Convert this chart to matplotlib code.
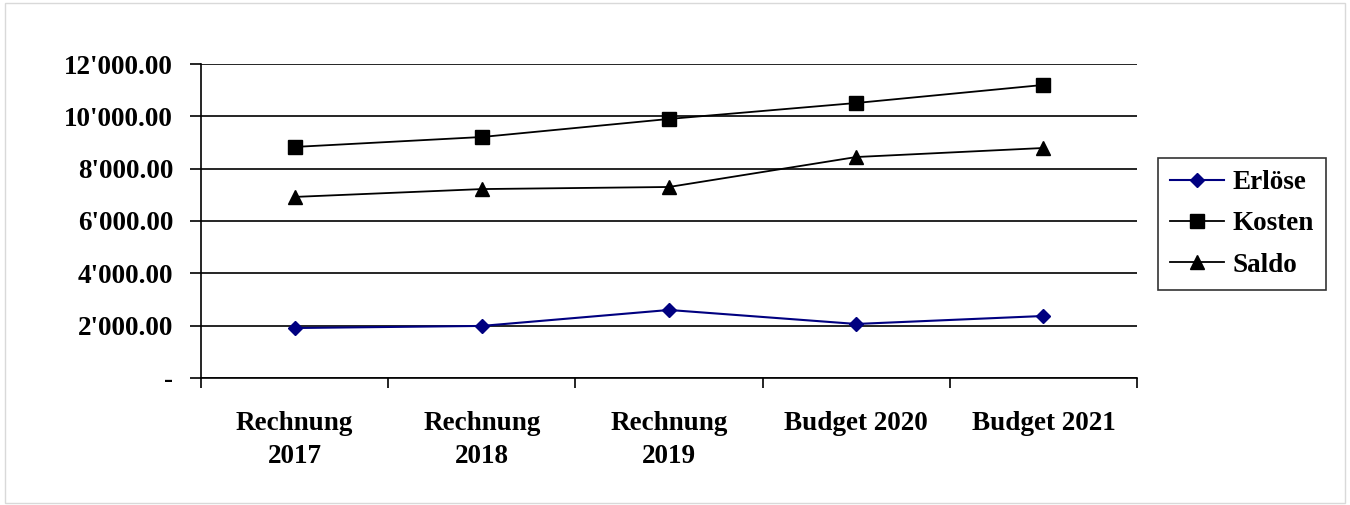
import matplotlib
matplotlib.use("Agg")
import matplotlib.pyplot as plt
from matplotlib.ticker import FuncFormatter, FixedLocator
from matplotlib.patches import Rectangle

categories = ["Rechnung\n2017", "Rechnung\n2018", "Rechnung\n2019", "Budget 2020", "Budget 2021"]
erloese = [1910, 1990, 2600, 2065, 2370]
kosten = [8830, 9210, 9900, 10510, 11200]
saldo = [6920, 7220, 7300, 8445, 8790]
yticks = [0, 2000, 4000, 6000, 8000, 10000, 12000]

plt.rcParams['font.family'] = ['Liberation Serif', 'DejaVu Serif']
plt.rcParams['font.weight'] = 'bold'
FS = 19.5

fig = plt.figure(figsize=(13.5, 5.05), dpi=100)
fig.patches.append(Rectangle((0.004, 0.004), 0.992, 0.99, transform=fig.transFigure,
                             fill=False, edgecolor='#d9d9d9', linewidth=1.0))
ax = fig.add_axes([201/1350, 1-378/505, (1137-201)/1350, (378-64)/505])

x = [i + 0.5 for i in range(len(categories))]
ax.plot(x, erloese, color='#000080', marker='D', markersize=7.5, linewidth=1.5, label='Erlöse')
ax.plot(x, kosten, color='black', marker='s', markersize=9.5, linewidth=1.3, label='Kosten')
ax.plot(x, saldo, color='black', marker='^', markersize=10, linewidth=1.3, label='Saldo')

ax.set_xlim(0, len(categories))
ax.set_ylim(0, 12000)
ax.set_yticks(yticks)
ax.yaxis.set_major_formatter(FuncFormatter(
    lambda v, p: "-" if v == 0 else f"{v:,.2f}".replace(",", "'")))
ax.yaxis.grid(True, color='black', linewidth=1.2)
ax.set_axisbelow(True)

ax.xaxis.set_major_locator(FixedLocator(range(len(categories) + 1)))
ax.xaxis.set_minor_locator(FixedLocator(x))
ax.set_xticklabels([])
ax.set_xticklabels(categories, minor=True)
ax.tick_params(axis='x', which='major', direction='out', length=7.5, width=1.2)
ax.tick_params(axis='x', which='minor', length=0, pad=24, labelsize=FS)
ax.tick_params(axis='y', direction='out', length=8, width=1.2, labelsize=FS, pad=12)
for lab in ax.get_xticklabels(minor=True):
    lab.set_linespacing(1.42)
    lab.set_fontweight('bold')
for lab in ax.get_yticklabels():
    lab.set_fontweight('bold')

for s in ['top', 'right']:
    ax.spines[s].set_visible(False)
for s in ['left', 'bottom']:
    ax.spines[s].set_linewidth(1.2)
    ax.spines[s].set_color('black')

leg = fig.legend(loc='upper left', bbox_to_anchor=(1158/1350, 1-158/505),
                 prop={'size': FS, 'weight': 'bold'}, frameon=True, fancybox=False,
                 edgecolor='black', handlelength=2.0, labelspacing=0.6, borderpad=0.45,
                 handletextpad=0.3, borderaxespad=0)
leg.get_frame().set_linewidth(1.2)

fig.savefig("out.png", dpi=100)
